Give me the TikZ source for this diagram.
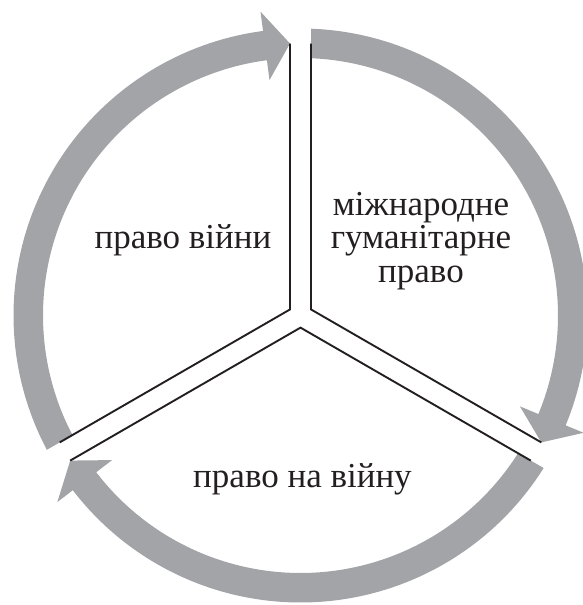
\documentclass[tikz,border=0pt]{standalone}
\usepackage{fontspec}
\setmainfont{Liberation Serif}
\definecolor{ringgray}{RGB}{162,164,168}
\definecolor{inkdark}{RGB}{35,31,32}
\newcommand\ringarrow[4]{%
  \fill[ringgray] (#1:\Ri) -- (#2:\Ro) arc[start angle=#2, end angle=#3, radius=\Ro]
    -- (#3:\Ao) -- (#4:\Rt) -- (#3:\Ai) -- (#3:\Ri)
    arc[start angle=#3, end angle=#1, radius=\Ri] -- cycle;}
\begin{document}
\begin{tikzpicture}[x=1pt,y=1pt,
  divider/.style={draw=inkdark,line width=1.9pt,line join=miter},
  label/.style={font=\fontsize{35}{33.5}\selectfont,inner sep=0pt,text=inkdark,align=center}]
\useasboundingbox (0,0) rectangle (583,-605);
\clip (0,0) rectangle (583,-605);
\def\Ri{257.5}\def\Ro{287}\def\Ai{237.5}\def\Ao{306.5}\def\Rt{272.2}
\begin{scope}[shift={(300.5,-315.5)}]
  % three arrow arcs (clockwise)
  \ringarrow{207.663}{207.903}{97.5}{92.21}
  \ringarrow{87.663}{87.903}{-22.5}{-27.79}
  \ringarrow{-32.337}{-32.097}{-142.5}{-147.79}
  % dividers
  \coordinate (cUL) at (-10.5,6.06);
  \coordinate (cUR) at (10.5,6.06);
  \coordinate (cB) at (0,-12.12);
  \coordinate (tL) at (-10.5,272);
  \coordinate (tR) at (10.5,272);
  \coordinate (rU) at (240.8,-126.9);
  \coordinate (rL) at (230.3,-145.1);
  \coordinate (lU) at (-240.8,-126.9);
  \coordinate (lL) at (-230.3,-145.1);
  \draw[divider] (tL) -- (cUL) -- (lU);
  \draw[divider] (tR) -- (cUR) -- (rU);
  \draw[divider] (lL) -- (cB) -- (rL);
\end{scope}
\node[label,anchor=base] (war) at (183,-248) {право війни};
\node[label,anchor=base] (ihl) at (421,-282) {міжнародне\\гуманітарне\\право};
\node[label,anchor=base] (jab) at (302.5,-487) {право на війну};
\end{tikzpicture}
\end{document}
